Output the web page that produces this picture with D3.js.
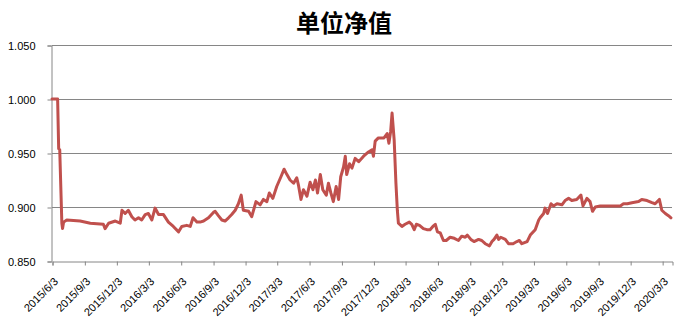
<!DOCTYPE html>
<html>
<head>
<meta charset="utf-8">
<script src="https://cdn.jsdelivr.net/npm/d3@7"></script>
<style>
body { margin: 0; background: #fff; }
svg text { font-family: "Liberation Sans", Arial, sans-serif; }
</style>
</head>
<body>
<svg id="chart"></svg>
<script>
// size of the picture and the plot area
var svgWidth = 688;
var svgHeight = 331;
var margin = { left: 52, right: 16, top: 45, bottom: 70 };

// data
var dates = [
  "2015-06-03", "2015-06-19", "2015-06-22", "2015-06-25", "2015-07-01", "2015-07-03", "2015-07-06", "2015-07-15",
  "2015-08-22", "2015-09-20", "2015-10-27", "2015-11-01", "2015-11-11", "2015-11-30", "2015-12-14", "2015-12-19",
  "2015-12-28", "2016-01-06", "2016-01-16", "2016-01-25", "2016-02-04", "2016-02-13", "2016-02-23", "2016-03-03",
  "2016-03-13", "2016-03-22", "2016-04-01", "2016-04-15", "2016-04-29", "2016-05-13", "2016-05-28", "2016-06-06",
  "2016-06-20", "2016-06-30", "2016-07-08", "2016-07-19", "2016-07-28", "2016-08-07", "2016-08-21", "2016-09-04",
  "2016-09-09", "2016-09-18", "2016-09-28", "2016-10-07", "2016-10-17", "2016-10-26", "2016-11-05", "2016-11-14",
  "2016-11-22", "2016-11-28", "2016-12-13", "2016-12-22", "2017-01-03", "2017-01-15", "2017-01-24", "2017-02-03",
  "2017-02-10", "2017-02-20", "2017-03-03", "2017-03-15", "2017-03-24", "2017-04-01", "2017-04-10", "2017-04-20",
  "2017-04-29", "2017-05-04", "2017-05-11", "2017-05-18", "2017-05-28", "2017-06-06", "2017-06-14", "2017-06-21",
  "2017-06-27", "2017-07-05", "2017-07-12", "2017-07-22", "2017-07-28", "2017-08-04", "2017-08-11", "2017-08-19",
  "2017-08-26", "2017-09-01", "2017-09-09", "2017-09-14", "2017-09-18", "2017-09-26", "2017-10-03", "2017-10-12",
  "2017-10-22", "2017-11-05", "2017-11-19", "2017-11-29", "2017-12-03", "2017-12-08", "2017-12-17", "2018-01-02",
  "2018-01-11", "2018-01-16", "2018-01-21", "2018-01-25", "2018-01-31", "2018-02-05", "2018-02-09", "2018-02-12",
  "2018-02-22", "2018-03-03", "2018-03-15", "2018-03-22", "2018-03-29", "2018-04-04", "2018-04-13", "2018-04-24",
  "2018-05-04", "2018-05-13", "2018-05-21", "2018-05-28", "2018-06-03", "2018-06-11", "2018-06-20", "2018-06-28",
  "2018-07-09", "2018-07-21", "2018-08-02", "2018-08-11", "2018-08-21", "2018-08-27", "2018-09-06", "2018-09-15",
  "2018-09-28", "2018-10-07", "2018-10-17", "2018-10-29", "2018-11-05", "2018-11-11", "2018-11-19", "2018-11-24",
  "2018-11-30", "2018-12-13", "2018-12-22", "2019-01-04", "2019-01-15", "2019-01-22", "2019-01-29", "2019-02-13",
  "2019-02-22", "2019-03-08", "2019-03-18", "2019-03-22", "2019-04-01", "2019-04-05", "2019-04-12", "2019-04-22",
  "2019-04-29", "2019-05-09", "2019-05-23", "2019-06-01", "2019-06-11", "2019-06-20", "2019-07-04", "2019-07-16",
  "2019-07-22", "2019-08-02", "2019-08-11", "2019-08-18", "2019-08-26", "2019-09-09", "2019-09-28", "2019-11-05",
  "2019-11-14", "2019-11-25", "2019-12-08", "2019-12-27", "2020-01-05", "2020-01-20", "2020-02-03", "2020-02-12",
  "2020-02-24", "2020-03-02", "2020-03-12", "2020-03-21", "2020-03-28"
];
var navValues = [
  1.000, 1.000, 0.954, 0.953, 0.885, 0.880, 0.886, 0.888,
  0.887, 0.885, 0.884, 0.880, 0.885, 0.887, 0.885, 0.897,
  0.894, 0.897, 0.891, 0.888, 0.890, 0.888, 0.893, 0.894,
  0.888, 0.899, 0.893, 0.893, 0.886, 0.882, 0.877, 0.882,
  0.883, 0.882, 0.890, 0.886, 0.886, 0.887, 0.890, 0.895,
  0.896, 0.892, 0.888, 0.887, 0.890, 0.893, 0.897, 0.903,
  0.911, 0.897, 0.896, 0.891, 0.905, 0.902, 0.907, 0.905,
  0.913, 0.908, 0.919, 0.928, 0.935, 0.930, 0.925, 0.922,
  0.927, 0.920, 0.907, 0.916, 0.910, 0.923, 0.916, 0.925,
  0.913, 0.930, 0.916, 0.911, 0.922, 0.913, 0.905, 0.919,
  0.907, 0.928, 0.937, 0.947, 0.930, 0.940, 0.936, 0.945,
  0.942, 0.947, 0.951, 0.953, 0.947, 0.961, 0.964, 0.964,
  0.968, 0.959, 0.970, 0.987, 0.962, 0.922, 0.897, 0.885,
  0.882, 0.884, 0.886, 0.884, 0.879, 0.884, 0.883, 0.880,
  0.879, 0.879, 0.882, 0.884, 0.877, 0.876, 0.869, 0.869,
  0.872, 0.871, 0.869, 0.873, 0.872, 0.874, 0.870, 0.868,
  0.870, 0.869, 0.866, 0.864, 0.868, 0.870, 0.874, 0.870,
  0.872, 0.870, 0.866, 0.866, 0.868, 0.869, 0.866, 0.868,
  0.874, 0.879, 0.888, 0.890, 0.894, 0.899, 0.894, 0.903,
  0.901, 0.903, 0.902, 0.906, 0.908, 0.906, 0.907, 0.911,
  0.901, 0.908, 0.905, 0.896, 0.900, 0.901, 0.901, 0.901,
  0.903, 0.903, 0.904, 0.905, 0.907, 0.906, 0.904, 0.903,
  0.907, 0.897, 0.894, 0.892, 0.890
];
var yTicks = [0.85, 0.90, 0.95, 1.00, 1.05];
var xTickLabels = [
  "2015/6/3", "2015/9/3", "2015/12/3", "2016/3/3", "2016/6/3", "2016/9/3", "2016/12/3",
  "2017/3/3", "2017/6/3", "2017/9/3", "2017/12/3", "2018/3/3", "2018/6/3", "2018/9/3",
  "2018/12/3", "2019/3/3", "2019/6/3", "2019/9/3", "2019/12/3", "2020/3/3"
];
var xStart = "2015-06-03";
var xEnd = "2020-03-31";
var chartTitle = "单位净值";

var parseDate = d3.timeParse("%Y-%m-%d");
var parseLabel = d3.timeParse("%Y/%m/%d");

var dataset = dates.map(function (d, i) {
  return { date: parseDate(d), value: navValues[i] };
});

var svg = d3.select("#chart")
  .attr("width", svgWidth)
  .attr("height", svgHeight);

var x = d3.scaleTime()
  .domain([parseDate(xStart), parseDate(xEnd)])
  .range([margin.left, svgWidth - margin.right]);

var y = d3.scaleLinear()
  .domain([0.85, 1.05])
  .range([svgHeight - margin.bottom, margin.top]);

// title
svg.append("text")
  .attr("x", 344)
  .attr("y", 32)
  .attr("text-anchor", "middle")
  .style("font-family", "'Noto Sans CJK SC', sans-serif")
  .style("font-size", "24px")
  .style("font-weight", "bold")
  .attr("fill", "#000")
  .text(chartTitle);

// horizontal grid lines
svg.append("g")
  .attr("class", "grid")
  .selectAll("line")
  .data(yTicks.slice(1))
  .enter()
  .append("line")
  .attr("x1", margin.left)
  .attr("x2", svgWidth - margin.right)
  .attr("y1", function (d) { return Math.round(y(d)) + 0.5; })
  .attr("y2", function (d) { return Math.round(y(d)) + 0.5; })
  .attr("stroke", "#868686")
  .attr("stroke-width", 1);

// y axis
var yAxis = svg.append("g")
  .attr("transform", "translate(" + (margin.left - 0.5) + ",0.5)")
  .call(d3.axisLeft(y).tickValues(yTicks).tickFormat(d3.format(".3f")).tickSizeOuter(0).tickSize(4).tickPadding(12));
yAxis.select(".domain").attr("stroke", "#868686");
yAxis.selectAll(".tick line").attr("stroke", "#868686");
yAxis.selectAll(".tick text")
  .attr("fill", "#000")
  .style("font-size", "11px");

// x axis
var xAxis = svg.append("g")
  .attr("transform", "translate(0.5," + (Math.round(y(0.85)) + 0.5) + ")")
  .call(d3.axisBottom(x)
    .tickValues(xTickLabels.map(function (d) { return parseLabel(d); }))
    .tickFormat(function (d, i) { return xTickLabels[i]; })
    .tickSizeOuter(0)
    .tickSize(4));
xAxis.select(".domain").attr("stroke", "#868686");
xAxis.selectAll(".tick line").attr("stroke", "#868686");
xAxis.selectAll(".tick text")
  .attr("fill", "#000")
  .style("font-size", "11px")
  .attr("text-anchor", "end")
  .attr("x", 0)
  .attr("y", 0)
  .attr("dy", "0.35em")
  .attr("transform", "translate(3,18) rotate(-45)");

// the line
var line = d3.line()
  .x(function (d) { return x(d.date); })
  .y(function (d) { return y(d.value); });

svg.append("path")
  .datum(dataset)
  .attr("d", line)
  .attr("fill", "none")
  .attr("stroke", "#C0504D")
  .attr("stroke-width", 3)
  .attr("stroke-linejoin", "round")
  .attr("stroke-linecap", "round");
</script>
</body>
</html>
